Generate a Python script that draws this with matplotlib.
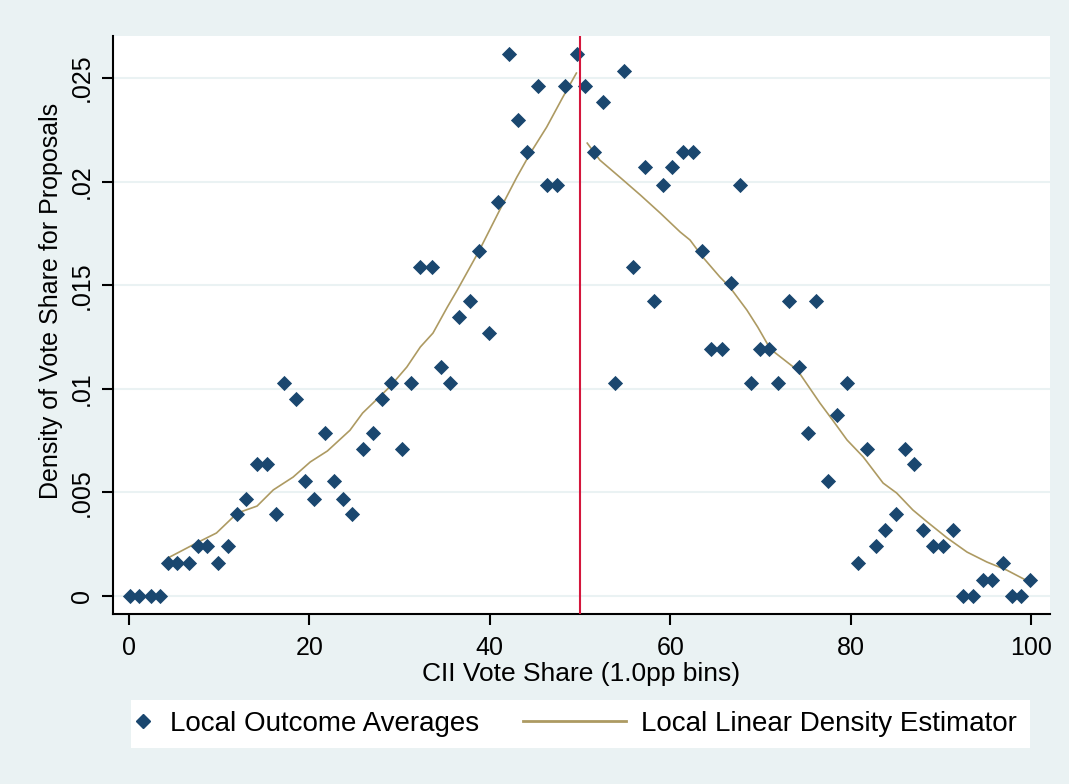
import numpy as np
import matplotlib
matplotlib.use("Agg")
import matplotlib.pyplot as plt
from matplotlib.lines import Line2D
from matplotlib.patches import Rectangle

# bin averages (share of proposals per bin)
bin_x = [0.1, 1.1, 2.4, 3.4, 4.3, 5.3, 6.7, 7.6, 8.6, 9.9, 11.0, 12.0, 13.0, 14.2, 15.3,
         16.3, 17.2, 18.5, 19.5, 20.5, 21.7, 22.7, 23.7, 24.7, 25.9, 27.1, 28.0, 29.0,
         30.3, 31.3, 32.3, 33.6, 34.6, 35.6, 36.6, 37.8, 38.8, 39.9, 40.9, 42.1, 43.1,
         44.1, 45.3, 46.3, 47.5, 48.3, 49.7,
         50.6, 51.5, 52.5, 53.9, 54.9, 55.9, 57.2, 58.2, 59.2, 60.2, 61.4, 62.5, 63.5,
         64.5, 65.7, 66.7, 67.7, 69.0, 70.0, 71.0, 72.0, 73.2, 74.3, 75.3, 76.2, 77.5,
         78.5, 79.6, 80.8, 81.8, 82.8, 83.8, 85.0, 86.0, 87.0, 88.0, 89.1, 90.2, 91.4,
         92.5, 93.6, 94.7, 95.7, 96.9, 97.9, 98.9, 99.9]
bin_y = [0, 0, 0, 0, 0.00159, 0.00159, 0.00159, 0.0024, 0.0024, 0.00159, 0.0024, 0.00396,
         0.00468, 0.00637, 0.00637, 0.00396, 0.01028, 0.00951, 0.00555, 0.00468, 0.00787,
         0.00555, 0.00468, 0.00396, 0.00709, 0.00787, 0.00951, 0.01028, 0.00709, 0.01028,
         0.0159, 0.0159, 0.01105, 0.01028, 0.01347, 0.01424, 0.01665, 0.01269, 0.01902,
         0.02616, 0.02297, 0.02143, 0.02461, 0.01984, 0.01984, 0.02461, 0.02616,
         0.0246, 0.02143, 0.02384, 0.01028, 0.02534, 0.0159, 0.0207, 0.01424, 0.01984,
         0.0207, 0.02143, 0.02143, 0.01665, 0.01192, 0.01192, 0.0151, 0.01984, 0.01028,
         0.01192, 0.01192, 0.01028, 0.01424, 0.01105, 0.00787, 0.01424, 0.00555, 0.00874,
         0.01028, 0.00159, 0.00709, 0.0024, 0.00318, 0.00396, 0.00709, 0.00637, 0.00318,
         0.0024, 0.0024, 0.00318, 0, 0, 0.00077, 0.00077, 0.00159, 0, 0, 0.00077]

# local linear density fit, left and right of the cutoff
left_x = [4.3, 7.5, 9.7, 12.0, 14.2, 16.0, 18.2, 20.1, 22.0, 24.5, 25.9, 28.9, 30.8,
          32.3, 33.7, 35.3, 36.4, 38.8, 41.1, 43.0, 44.5, 46.3, 48.1, 49.6]
left_y = [0.00183, 0.00256, 0.00304, 0.0040, 0.00434, 0.00512, 0.00574, 0.00647, 0.00700,
          0.0080, 0.00883, 0.01009, 0.01105, 0.01202, 0.01269, 0.01395, 0.01477, 0.01665,
          0.01863, 0.02022, 0.02138, 0.02263, 0.02408, 0.02524]
right_x = [50.8, 52.2, 54.4, 56.7, 58.9, 61.1, 62.2, 63.6, 65.5, 66.6, 68.5, 69.7, 71.1,
           74.1, 76.6, 78.0, 79.6, 81.4, 83.6, 85.1, 86.9, 88.5, 90.7, 92.9, 95.1, 97.3, 99.8]
right_y = [0.02186, 0.02104, 0.02022, 0.01935, 0.01848, 0.01757, 0.01718, 0.01636, 0.0154,
           0.01491, 0.0138, 0.01298, 0.01192, 0.01090, 0.00931, 0.00849, 0.00753, 0.00671,
           0.00545, 0.00497, 0.00415, 0.00357, 0.0028, 0.00212, 0.00164, 0.00125, 0.00068]

cutoff = 50
yticks = [0, 0.005, 0.01, 0.015, 0.02, 0.025]
ytick_labels = ["0", ".005", ".01", ".015", ".02", ".025"]

plt.rcParams['font.family'] = ['Liberation Sans Narrow', 'Liberation Sans', 'DejaVu Sans']

bg = '#eaf2f3'
navy = '#1a476f'
tan = '#ad9a62'
W, H = 1069, 784

fig = plt.figure(figsize=(10.69, 7.84), dpi=100, facecolor=bg)
ax = fig.add_axes([113 / W, 1 - 614 / H, 937 / W, 578 / H])
ax.set_facecolor('white')

for y in yticks:
    ax.axhline(y, color=bg, linewidth=1.5, zorder=0)

ax.scatter(bin_x, bin_y, marker='D', s=60, color=navy, zorder=3, linewidths=0)
ax.plot(left_x, left_y, color=tan, linewidth=1.2, zorder=2)
ax.plot(right_x, right_y, color=tan, linewidth=1.2, zorder=2)
ax.axvline(cutoff, color='#d4163c', linewidth=1.5, zorder=4)

ax.set_xlim(-1.77, 102.1)
ax.set_ylim(-0.00087, 0.02703)
ax.set_xticks([0, 20, 40, 60, 80, 100])
ax.set_yticks(yticks)
ax.set_yticklabels(ytick_labels, rotation=90, va='center')
ax.tick_params(axis='both', labelsize=18, length=8, width=1.5, direction='out', pad=6)
ax.tick_params(axis='x', pad=8)

for s in ['top', 'right']:
    ax.spines[s].set_visible(False)
for s in ['left', 'bottom']:
    ax.spines[s].set_linewidth(1.5)

ax.set_xlabel('CII Vote Share (1.0pp bins)', fontsize=19, labelpad=1)
ax.set_ylabel('Density of Vote Share for Proposals', fontsize=18)
ax.yaxis.set_label_coords(-0.053, 0.5415)

# legend: white box with two entries
fig.patches.append(Rectangle((131 / W, 1 - 748 / H), 899 / W, 48 / H, transform=fig.transFigure,
                             facecolor='white', edgecolor='none', zorder=0))
leg_y = 1 - 724 / H
leg1 = fig.legend([Line2D([], [], marker='D', color=navy, linestyle='none', markersize=7)],
                  ['Local Outcome Averages'], loc='center left', bbox_to_anchor=(132 / W, leg_y),
                  fontsize=20, frameon=False, handlelength=0.8, handletextpad=0.55,
                  borderpad=0, borderaxespad=0)
leg2 = fig.legend([Line2D([], [], color=tan, linewidth=2)],
                  ['Local Linear Density Estimator'], loc='center left', bbox_to_anchor=(523 / W, leg_y),
                  fontsize=20, frameon=False, handlelength=3.7, handletextpad=0.55,
                  borderpad=0, borderaxespad=0)

fig.savefig('out.png', dpi=100, facecolor=bg)
